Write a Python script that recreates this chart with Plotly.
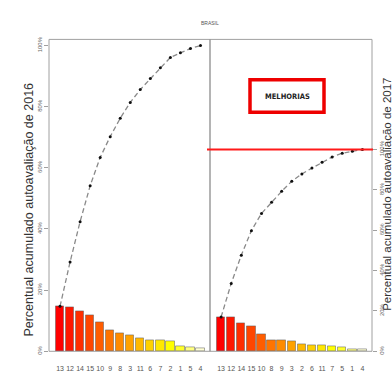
import colorsys
import numpy as np
import plotly.graph_objects as go

# Pareto data (percent of total per item), sorted by frequency
labels_2016 = ["13", "12", "14", "15", "10", "9", "8", "3", "11", "6", "7", "2", "1", "5", "4"]
pct_2016 = [14.7, 14.5, 13.2, 11.7, 9.3, 6.8, 6.0, 5.2, 4.2, 3.6, 3.5, 3.4, 1.5, 1.4, 1.0]

labels_2017 = ["13", "12", "14", "15", "10", "8", "9", "3", "2", "6", "11", "7", "5", "1", "4"]
pct_2017 = [17.0, 16.6, 14.0, 12.2, 8.5, 5.6, 5.4, 5.0, 3.6, 2.9, 2.9, 2.6, 1.9, 0.9, 0.9]

pct_ticks = [0, 20, 40, 60, 80, 100]
pct_tick_text = ["0%", "20%", "40%", "60%", "80%", "100%"]


def heat_colors(n):
    """R-style heat.colors palette: red -> yellow -> pale yellow."""
    j = n // 4
    i = n - j
    cols = []
    for h in np.linspace(0, 1 / 6, i):
        cols.append(colorsys.hsv_to_rgb(h, 1, 1))
    for s in np.linspace(1 - 1 / (2 * j), 1 / (2 * j), j):
        cols.append(colorsys.hsv_to_rgb(1 / 6, s, 1))
    return ["rgb(%d,%d,%d)" % (round(r * 255), round(g * 255), round(b * 255)) for r, g, b in cols]


W, H = 392, 373
PX_L, PX_M, PX_R = 49, 210, 372      # panel borders (px)
PY_T, PY_B = 37, 354                  # plot top / baseline (px)


def fx(px):
    return px / W


def fy(py):
    return 1 - py / H


fig = go.Figure()
grey = "#a0a0a0"
tick_font = dict(family="Liberation Sans, Arial, sans-serif", size=6, color="#666")


def add_pareto(labels, pct, xa, ya):
    x = np.arange(len(labels))
    fig.add_trace(go.Bar(
        x=x, y=pct, width=0.83, xaxis=xa, yaxis=ya,
        marker=dict(color=heat_colors(len(pct)), line=dict(color="rgba(90,90,90,0.5)", width=1)),
        showlegend=False, hoverinfo="skip",
    ))
    fig.add_trace(go.Scatter(
        x=x, y=np.cumsum(pct), xaxis=xa, yaxis=ya, mode="lines+markers",
        line=dict(color="#8a8a8a", width=1.3, dash="5px,3px"),
        marker=dict(color="#111", size=3, symbol="circle"),
        showlegend=False, hoverinfo="skip",
    ))


add_pareto(labels_2016, pct_2016, "x", "y")
add_pareto(labels_2017, pct_2017, "x2", "y2")

xrng = [-1.1, 14.95]
common_x = dict(range=xrng, tickmode="array", tickvals=list(range(15)),
                ticks="outside", ticklen=10, tickcolor="rgba(0,0,0,0)",
                tickfont=dict(family="Liberation Sans, Arial, sans-serif", size=7, color="#555"),
                showgrid=False, zeroline=False, showline=False, fixedrange=True)
common_y = dict(tickmode="array", tickvals=pct_ticks, ticktext=pct_tick_text,
                tickangle=-90, tickfont=tick_font, ticks="outside", ticklen=4, tickcolor=grey,
                showgrid=False, zeroline=False, showline=False)

fig.update_layout(
    width=W, height=H, margin=dict(l=0, r=0, t=0, b=0),
    paper_bgcolor="white", plot_bgcolor="white",
    bargap=0,
    xaxis=dict(domain=[fx(PX_L), fx(PX_M)], ticktext=labels_2016, anchor="y", **common_x),
    xaxis2=dict(domain=[fx(PX_M), fx(PX_R)], ticktext=labels_2017, anchor="y2", **common_x),
    yaxis=dict(domain=[fy(PY_B), fy(PY_T)], range=[0, 102], anchor="x", **common_y),
    yaxis2=dict(domain=[fy(PY_B), fy(PY_T)], range=[0, 154.6], anchor="x2", side="right", **common_y),
)

# panel frame and divider
fig.add_shape(type="rect", xref="paper", yref="paper", x0=fx(PX_L), x1=fx(PX_R), y0=fy(PY_B), y1=fy(PY_T),
              line=dict(color=grey, width=1), layer="above")
fig.add_shape(type="line", xref="paper", yref="paper", x0=fx(PX_M), x1=fx(PX_M), y0=fy(PY_B), y1=fy(PY_T),
              line=dict(color="#8c8c8c", width=1.3), layer="above")

# 100% reference line on the 2017 panel
fig.add_shape(type="line", xref="paper", yref="y2", x0=fx(207), x1=fx(373), y0=100, y1=100,
              line=dict(color="#ff1a1a", width=2))

# highlighted label box
fig.add_shape(type="rect", xref="paper", yref="paper", x0=fx(250), x1=fx(324), y0=fy(111), y1=fy(78),
              line=dict(color="#ee0000", width=3.5), fillcolor="white")
fig.add_annotation(x=fx(287), y=fy(95), xref="paper", yref="paper", xanchor="center", yanchor="middle",
                   text="<b>MELHORIAS</b>", showarrow=False,
                   font=dict(family="DejaVu Sans Condensed, Liberation Sans Narrow, Liberation Sans, sans-serif",
                             size=7.5, color="#222"))

fig.add_annotation(x=fx(210), y=fy(15), xref="paper", yref="paper", xanchor="center", text="BRASIL",
                   showarrow=False, font=dict(family="Liberation Sans, Arial, sans-serif", size=5, color="#555"))

fig.add_annotation(x=fx(29), y=fy(210), xref="paper", yref="paper", textangle=-90, showarrow=False,
                   xanchor="center", yanchor="middle",
                   text="Percentual acumulado autoavaliação de 2016",
                   font=dict(family="Liberation Sans, Arial, sans-serif", size=12.5, color="#333"))
fig.add_annotation(x=fx(387), y=fy(195), xref="paper", yref="paper", textangle=-90, showarrow=False,
                   xanchor="center", yanchor="middle",
                   text="Percentual acumulado autoavaliação de 2017",
                   font=dict(family="Liberation Sans, Arial, sans-serif", size=11.5, color="#333"))

fig.write_html("out.html")
